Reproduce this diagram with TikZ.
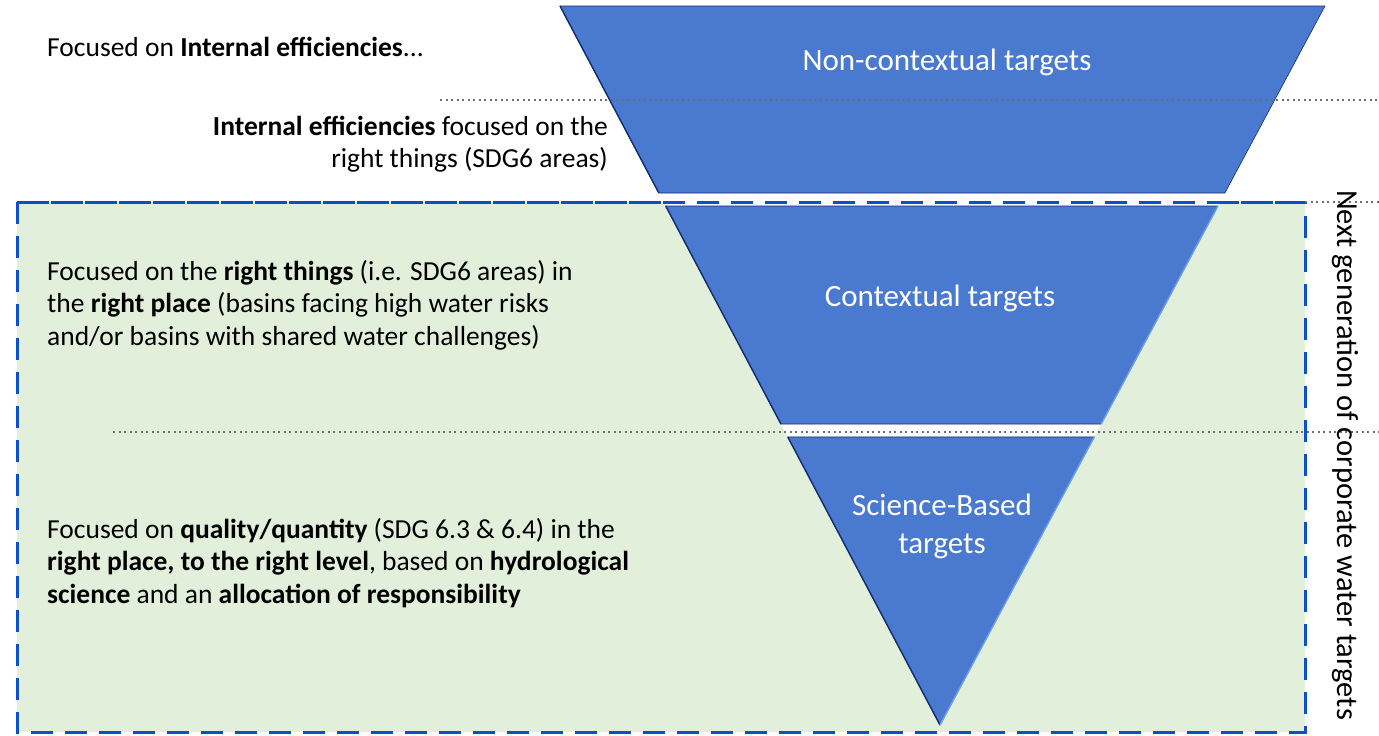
\documentclass[tikz,border=0pt]{standalone}
\usepackage{fontspec}
\setmainfont{Carlito}
\usetikzlibrary{calc}
\definecolor{triblue}{RGB}{74,122,207}
\definecolor{triedge}{RGB}{20,45,110}
\definecolor{trilight}{RGB}{110,160,240}
\definecolor{boxgreen}{RGB}{226,239,218}
\definecolor{dashblue}{RGB}{10,80,200}
\definecolor{dotgray}{RGB}{110,110,110}
\tikzset{
  lefttext/.style={font=\fontsize{27.5}{32.7}\selectfont, text=black, inner sep=0pt},
  tritext/.style={font=\fontsize{31}{38}\selectfont, text=white, inner sep=0pt, align=center},
  piece/.style={fill=triblue, draw=triedge, line width=0.6pt, line join=miter},
  darkedge/.style={draw=triedge, line width=1.4pt},
  lightedge/.style={draw=trilight, line width=1.4pt},
  sepline/.style={draw=dotgray, line width=2pt, dash pattern=on 2pt off 3.5pt},
  boxdash/.style={draw=dashblue, line width=3pt, dash pattern=on 22pt off 12pt},
  nextbox/.style={boxdash, fill=boxgreen},
}
\begin{document}
\begin{tikzpicture}[x=1pt,y=-1pt]
\useasboundingbox (0,0) rectangle (1379,736);
\fill[white] (0,0) rectangle (1379,736);
% green dashed box
\draw[nextbox] (17,202) rectangle (1305,732);
% triangle corners
\coordinate (TL) at (560,6);
\coordinate (TR) at (1325,6);
\coordinate (AP) at (940,725);
\fill[white] (TL) -- (TR) -- (AP) -- cycle;
% piece corners
\coordinate (L1) at ($(TL)!0.2601!(AP)$);
\coordinate (R1) at ($(TR)!0.2601!(AP)$);
\coordinate (L2) at ($(TL)!0.2782!(AP)$);
\coordinate (R2) at ($(TR)!0.2782!(AP)$);
\coordinate (L3) at ($(TL)!0.5814!(AP)$);
\coordinate (R3) at ($(TR)!0.5814!(AP)$);
\coordinate (L4) at ($(TL)!0.5994!(AP)$);
\coordinate (R4) at ($(TR)!0.5994!(AP)$);
% pieces
\draw[piece] (TL) -- (TR) -- (R1) -- (L1) -- cycle;
\draw[piece] (L2) -- (R2) -- (R3) -- (L3) -- cycle;
\draw[piece] (L4) -- (R4) -- (AP) -- cycle;
% edge shading
\draw[darkedge] (TL) -- (L1);
\draw[darkedge] (L2) -- (L3);
\draw[darkedge] (L4) -- (AP);
\draw[lightedge] (R2) -- (R3);
\draw[lightedge] (R4) -- (AP);
% redraw top dashed edge over white gap
\draw[boxdash] (17,202) -- (1305,202);
% dotted separators
\coordinate (d1a) at (440,100);
\coordinate (d1b) at (1379,100);
\coordinate (d2a) at (1305,202);
\coordinate (d2b) at (1379,202);
\coordinate (d3a) at (113,432);
\coordinate (d3b) at (1379,432);
\draw[sepline] (d1a) -- (d1b);
\draw[sepline] (d2a) -- (d2b);
\draw[sepline] (d3a) -- (d3b);
% triangle labels
\node[tritext] (nc) at (947,62) {Non-contextual targets};
\node[tritext] (ct) at (940,298) {Contextual targets};
\node[tritext] (sb) at (942,526) {Science-Based\\targets};
% left texts
\node[lefttext, anchor=base west] (t1) at (47,56) {Focused on \textbf{Internal efficiencies}...};
\node[lefttext, anchor=base east] (t2) at (608,135) {\begin{tabular}[t]{@{}r@{}}\textbf{Internal efficiencies} focused on the\\right things (SDG6 areas)\end{tabular}};
\node[lefttext, anchor=base west] (t3) at (47,280) {\begin{tabular}[t]{@{}l@{}}Focused on the \textbf{right things} (i.e. SDG6 areas) in\\the \textbf{right place} (basins facing high water risks\\and/or basins with shared water challenges)\end{tabular}};
\node[lefttext, anchor=base west] (t4) at (47,538) {\begin{tabular}[t]{@{}l@{}}Focused on \textbf{quality/quantity} (SDG 6.3 \& 6.4) in the\\\textbf{right place, to the right level}, based on \textbf{hydrological}\\\textbf{science} and an \textbf{allocation of responsibility}\end{tabular}};
% vertical label
\node[lefttext, rotate=-90, font=\fontsize{30.5}{36}\selectfont] (nx) at (1345,455) {Next generation of corporate water targets};
\end{tikzpicture}
\end{document}
